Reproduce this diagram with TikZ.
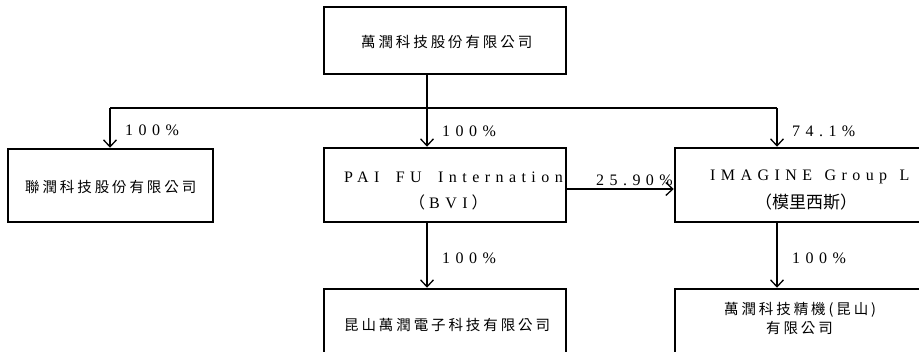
\documentclass[tikz,border=0pt]{standalone}
\usepackage{fontspec}
\setmainfont{Liberation Serif}
\newfontfamily\cjk{Noto Sans CJK TC}[LetterSpace=20]
\newfontfamily\cjkn{Noto Sans CJK TC}
\newfontfamily\lat{Liberation Serif}[LetterSpace=34]
\usetikzlibrary{arrows.meta}
\tikzset{
  box/.style={draw, line width=2.5pt, minimum width=242pt, minimum height=74pt, inner sep=0pt},
  hline/.style={line width=2.5pt},
  vline/.style={line width=2pt},
  arr/.style={line width=1.3pt, -{Straight Barb[length=7pt,width=13pt,line width=1.3pt]}},
  ctxt/.style={inner sep=0pt, anchor=west, font=\fontsize{14.5}{17}\cjk},
  ltxt/.style={inner sep=0pt, anchor=base west, font=\fontsize{16}{18}\lat},
  pct/.style={inner sep=0pt, anchor=base west, font=\fontsize{16}{18}\lat},
}
\begin{document}
\begin{tikzpicture}[x=1pt,y=-1pt]
\useasboundingbox (0,0) rectangle (919,351);
\clip (0,0) rectangle (919,351);
% boxes
\node[box, minimum height=67pt] (top) at (445,40.5) {};
\node[box, minimum width=205pt, minimum height=73pt] (left) at (110.5,185.5) {};
\node[box] (mid) at (445,185) {};
\node[box, minimum width=300pt] (right) at (825,185) {};
\node[box, minimum height=78pt] (bmid) at (445,328) {};
\node[box, minimum width=300pt, minimum height=78pt] (bright) at (825,328) {};
% texts
\node[ctxt] (t1) at (361,42) {萬潤科技股份有限公司};
\node[ctxt] (t2) at (25,187.5) {聯潤科技股份有限公司};
\node[ltxt] (t3) at (344,182) {PAI\hspace{7pt} FU\hspace{7pt} Internation};
\node[ltxt] (t4) at (409,208) {{\cjkn （}\hspace{4pt}BVI\hspace{4pt}{\cjkn ）}};
\node[ltxt] (t5) at (710,180) {IMAGINE\hspace{3pt} Group\hspace{3pt} L};
\node[inner sep=0pt, anchor=west, font=\fontsize{17}{19}\cjkn] (t6) at (755,202) {（模里西斯）};
\node[ctxt] (t7) at (344,325) {昆山萬潤電子科技有限公司};
\node[ctxt] (t8) at (724,310) {萬潤科技精機(昆山)};
\node[ctxt] (t9) at (766,328.5) {有限公司};
% connectors
\coordinate (jm) at (427,108);
\coordinate (jl) at (110,108);
\coordinate (jr) at (777,108);
\draw[vline] (jm |- top.south) -- (jm);
\draw[hline] (jl) -- (jr);
\draw[arr] (jl) -- (jl |- left.north);
\draw[arr] (jm) -- (jm |- mid.north);
\draw[arr] (jr) -- (jr |- right.north);
\draw[arr] ([yshift=-4pt]mid.east) -- ([yshift=-4pt]right.west);
\draw[arr] (jm |- mid.south) -- (jm |- bmid.north);
\draw[arr] (jr |- right.south) -- (jr |- bright.north);
% percentages
\node[pct] (p1) at (125,135) {100\%};
\node[pct] (p2) at (442,136) {100\%};
\node[pct] (p3) at (792,136) {74.1\%};
\node[pct] (p4) at (596,185) {25.90\%};
\node[pct] (p5) at (442,263) {100\%};
\node[pct] (p6) at (792,263) {100\%};
\end{tikzpicture}
\end{document}
